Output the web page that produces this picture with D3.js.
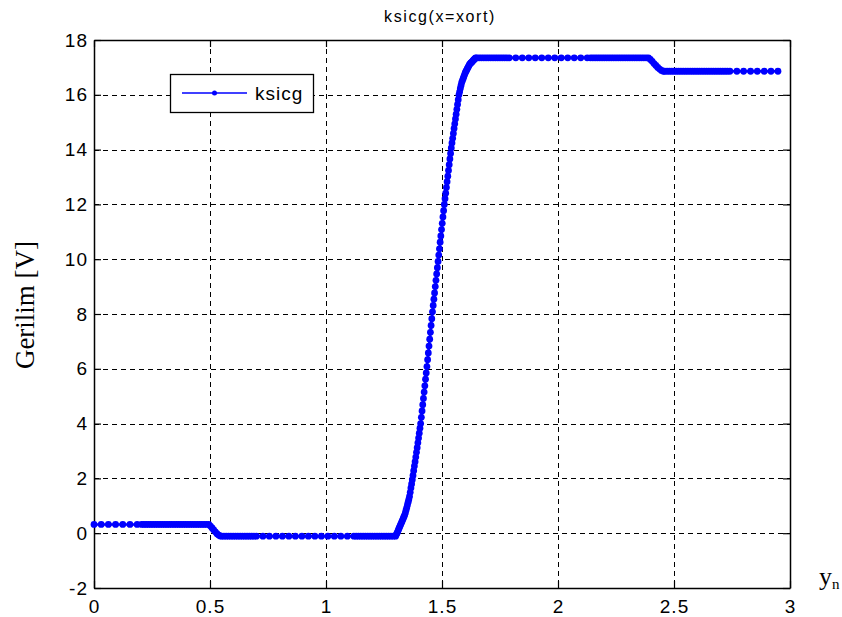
<!DOCTYPE html>
<html><head><meta charset="utf-8">
<script src="https://cdn.jsdelivr.net/npm/d3@7"></script>
<style>
html,body{margin:0;padding:0;background:#fff;}
svg{display:block;}
</style></head><body>
<svg id="chart" width="842" height="617"></svg>
<script>
// ---------- data ----------
const xTicks = [0, 0.5, 1, 1.5, 2, 2.5, 3];
const yTicks = [-2, 0, 2, 4, 6, 8, 10, 12, 14, 16, 18];
const titleText = "ksicg(x=xort)";
const seriesName = "ksicg";
const yLabelText = "Gerilim [V]";

const startLevel = 0.32;
const startFlatX = [0, 0.031, 0.062, 0.093, 0.124, 0.155, 0.186,
  0.205, 0.215, 0.225, 0.235, 0.245, 0.255, 0.265, 0.275, 0.285, 0.295, 0.305, 0.315,
  0.325, 0.335, 0.345, 0.355, 0.365, 0.375, 0.385, 0.395, 0.405, 0.415, 0.425, 0.435,
  0.445, 0.455, 0.465, 0.475, 0.485];
const firstDrop = [[0.495,0.32],[0.502,0.26],[0.509,0.19],[0.516,0.12],[0.523,0.05],
  [0.530,-0.02],[0.537,-0.07],[0.544,-0.10],[0.550,-0.11]];
const lowLevel = -0.11;
const lowFlatX = [0.56, 0.57, 0.58, 0.59, 0.60, 0.61, 0.62, 0.63, 0.64, 0.65, 0.66, 0.67, 0.68, 0.69, 0.70,
  0.728, 0.756, 0.784, 0.812, 0.840, 0.868, 0.896, 0.924, 0.952, 0.980, 1.008, 1.036, 1.064, 1.092, 1.12,
  1.13, 1.14, 1.15, 1.16, 1.17, 1.18, 1.19, 1.20, 1.21, 1.22, 1.23, 1.24, 1.25, 1.26, 1.27, 1.28, 1.29];
const rise = [
  [1.300,-0.11],[1.303,-0.05],[1.306,0.00],[1.309,0.06],[1.312,0.12],[1.315,0.18],[1.318,0.24],
  [1.321,0.30],[1.324,0.36],[1.327,0.42],[1.330,0.48],[1.333,0.54],[1.336,0.60],[1.339,0.66],
  [1.342,0.74],[1.345,0.84],[1.348,0.93],[1.351,1.03],[1.354,1.13],[1.357,1.23],[1.360,1.34],
  [1.363,1.49],[1.366,1.65],[1.369,1.80],[1.372,1.95],[1.375,2.11],[1.378,2.28],[1.381,2.45],
  [1.384,2.61],[1.387,2.78],[1.390,2.95],[1.393,3.12],[1.396,3.30],[1.399,3.47],[1.402,3.65],
  [1.405,3.83],[1.408,4.00],[1.411,4.23],[1.414,4.46],[1.417,4.69],[1.420,4.92],[1.423,5.15],
  [1.426,5.38],[1.429,5.62],[1.432,5.85],[1.435,6.08],[1.438,6.33],[1.441,6.58],[1.444,6.83],
  [1.447,7.08],[1.450,7.33],[1.453,7.58],[1.456,7.83],[1.459,8.08],[1.462,8.31],[1.465,8.54],
  [1.468,8.77],[1.471,9.00],[1.474,9.23],[1.477,9.46],[1.480,9.69],[1.483,9.92],[1.486,10.15],
  [1.489,10.38],[1.492,10.62],[1.495,10.85],[1.498,11.08],[1.501,11.31],[1.504,11.54],[1.507,11.77],
  [1.510,12.00],[1.513,12.21],[1.516,12.41],[1.519,12.62],[1.522,12.83],[1.525,13.03],[1.528,13.24],
  [1.531,13.45],[1.534,13.66],[1.537,13.86],[1.540,14.06],[1.543,14.24],[1.546,14.41],[1.549,14.59],
  [1.552,14.77],[1.555,14.94],[1.558,15.12],[1.561,15.29],[1.564,15.47],[1.567,15.65],[1.570,15.82],
  [1.573,16.00],[1.576,16.11],[1.579,16.23],[1.582,16.34],[1.585,16.45],[1.588,16.52],[1.591,16.59],
  [1.594,16.66],[1.597,16.73],[1.600,16.80],[1.603,16.85],[1.606,16.90],[1.609,16.95],[1.612,17.00],
  [1.615,17.05],[1.618,17.10],[1.621,17.13],[1.624,17.16],[1.627,17.18],[1.630,17.21],[1.633,17.24],
  [1.636,17.27],[1.639,17.29],[1.642,17.32],[1.645,17.35]];
const highLevel = 17.35;
const highFlatX = [1.65, 1.66, 1.67, 1.68, 1.69, 1.70, 1.71, 1.72, 1.73, 1.74, 1.75, 1.76, 1.77, 1.78, 1.79,
  1.818, 1.846, 1.874, 1.902, 1.930, 1.958, 1.986, 2.014, 2.042, 2.070, 2.098, 2.126,
  2.14, 2.15, 2.16, 2.17, 2.18, 2.19, 2.20, 2.21, 2.22, 2.23, 2.24, 2.25, 2.26, 2.27, 2.28,
  2.29, 2.30, 2.31, 2.32, 2.33, 2.34, 2.35, 2.36, 2.37, 2.38];
const secondDrop = [[2.390,17.35],[2.398,17.29],[2.406,17.22],[2.414,17.14],[2.422,17.07],
  [2.430,17.00],[2.438,16.94],[2.446,16.89],[2.454,16.86]];
const endLevel = 16.86;
const endFlatX = [2.46, 2.47, 2.48, 2.49, 2.50, 2.51, 2.52, 2.53, 2.54, 2.55, 2.56, 2.57, 2.58, 2.59,
  2.60, 2.61, 2.62, 2.63, 2.64, 2.65, 2.66, 2.67, 2.68, 2.69, 2.70, 2.71, 2.72, 2.73,
  2.741, 2.771, 2.800, 2.830, 2.859, 2.889, 2.918, 2.948];

// ---------- build series ----------
const points = [].concat(
  startFlatX.map(x => [x, startLevel]),
  firstDrop,
  lowFlatX.map(x => [x, lowLevel]),
  rise,
  highFlatX.map(x => [x, highLevel]),
  secondDrop,
  endFlatX.map(x => [x, endLevel])
);

// ---------- layout ----------
const svg = d3.select("#chart");
const L = 94, R = 790, T = 40, B = 588;
const x = d3.scaleLinear().domain([0, 3]).range([L, R]);
const y = d3.scaleLinear().domain([-2, 18]).range([B, T]);
const tickFont = "'Liberation Sans', Arial, sans-serif";

svg.append("rect").attr("width", 842).attr("height", 617).attr("fill", "#fff");
svg.append("rect").attr("x", L).attr("y", T).attr("width", R - L).attr("height", B - T).attr("fill", "#fff");

// grid
const grid = svg.append("g").attr("stroke", "#000").attr("stroke-width", 1).attr("stroke-dasharray", "5,4");
grid.selectAll("line.gx").data(xTicks.slice(1, -1)).join("line")
  .attr("x1", d => Math.round(x(d)) + 0.5).attr("x2", d => Math.round(x(d)) + 0.5)
  .attr("y1", T).attr("y2", B);
grid.selectAll("line.gy").data(yTicks.slice(1, -1)).join("line")
  .attr("y1", d => Math.round(y(d)) + 0.5).attr("y2", d => Math.round(y(d)) + 0.5)
  .attr("x1", L).attr("x2", R);

// axes (MATLAB style inward ticks on all sides)
const fmt = d => String(d);
const gB = svg.append("g").attr("transform", `translate(0,${B})`)
  .call(d3.axisBottom(x).tickValues(xTicks).tickFormat(fmt).tickSizeInner(-7).tickSizeOuter(0).tickPadding(12));
const gL = svg.append("g").attr("transform", `translate(${L},0)`)
  .call(d3.axisLeft(y).tickValues(yTicks).tickFormat(fmt).tickSizeInner(-7).tickSizeOuter(0).tickPadding(6));
const gT = svg.append("g").attr("transform", `translate(0,${T})`)
  .call(d3.axisTop(x).tickValues(xTicks).tickFormat("").tickSizeInner(-7).tickSizeOuter(0));
const gR = svg.append("g").attr("transform", `translate(${R},0)`)
  .call(d3.axisRight(y).tickValues(yTicks).tickFormat("").tickSizeInner(-7).tickSizeOuter(0));
[gB, gL, gT, gR].forEach(g => {
  g.selectAll("path.domain").attr("stroke", "#000").attr("stroke-width", 1.5);
  g.selectAll(".tick line").attr("stroke", "#000").attr("stroke-width", 1.2);
  g.selectAll("text").attr("font-family", tickFont).attr("font-size", 19)
    .attr("letter-spacing", "1px").attr("fill", "#000");
});

// series
const line = d3.line().x(d => x(d[0])).y(d => y(d[1]));
svg.append("path").datum(points).attr("d", line)
  .attr("fill", "none").attr("stroke", "#0000ff").attr("stroke-width", 2.6).attr("stroke-linejoin", "round");
svg.append("g").attr("fill", "#0000ff").selectAll("circle").data(points).join("circle")
  .attr("cx", d => x(d[0])).attr("cy", d => y(d[1])).attr("r", 3.4);

// legend
const lg = svg.append("g");
lg.append("rect").attr("x", 170.5).attr("y", 74.5).attr("width", 143).attr("height", 38)
  .attr("fill", "#fff").attr("stroke", "#000").attr("stroke-width", 1.3);
lg.append("line").attr("x1", 182).attr("x2", 247).attr("y1", 93).attr("y2", 93)
  .attr("stroke", "#0000ff").attr("stroke-width", 1.3);
lg.append("circle").attr("cx", 214.5).attr("cy", 93).attr("r", 2.5).attr("fill", "#0000ff");
lg.append("text").attr("x", 255).attr("y", 93).attr("dy", "0.35em").text(seriesName)
  .attr("font-family", tickFont).attr("font-size", 19).attr("letter-spacing", "1px");

// title
svg.append("text").attr("x", 440).attr("y", 22).attr("text-anchor", "middle").text(titleText)
  .attr("font-family", tickFont).attr("font-size", 16).attr("letter-spacing", "1.6px");

// y label
svg.append("text").attr("transform", "translate(34,305) rotate(-90)").attr("text-anchor", "middle")
  .text(yLabelText).attr("font-family", "'Liberation Serif', 'Times New Roman', serif").attr("font-size", 27);

// x label y_n
const xl = svg.append("text").attr("x", 819).attr("y", 585)
  .attr("font-family", "'Liberation Serif', 'Times New Roman', serif").attr("font-size", 26);
xl.append("tspan").text("y");
xl.append("tspan").attr("font-size", 15).attr("dy", 4).text("n");
</script>
</body></html>
